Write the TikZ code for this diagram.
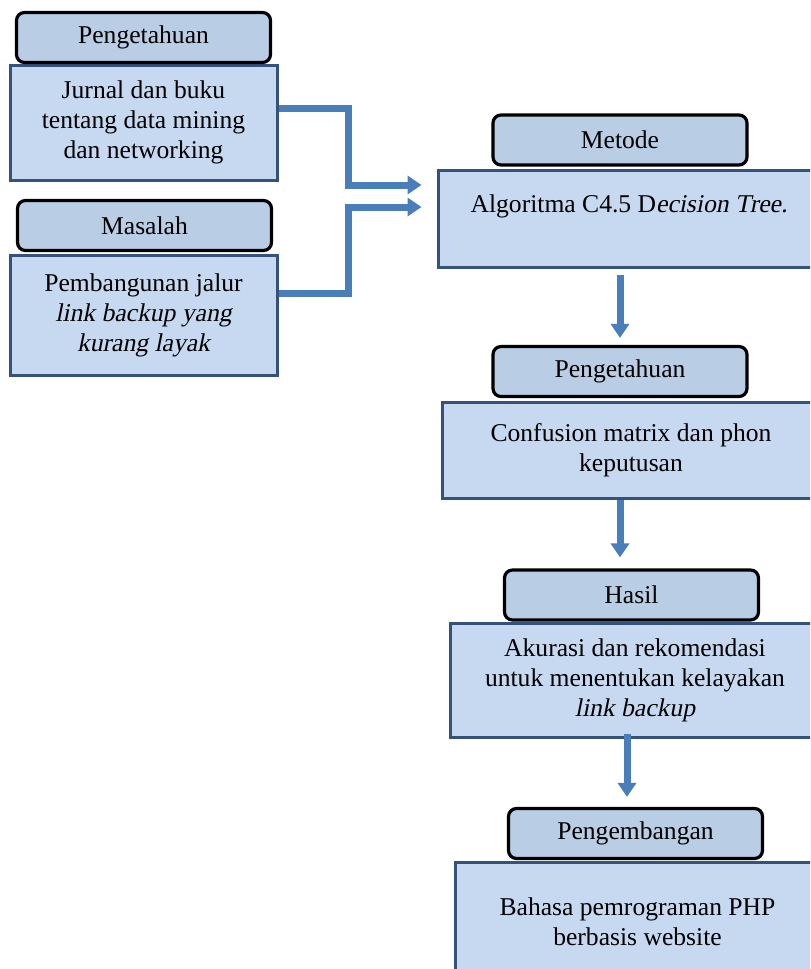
\documentclass[tikz,border=0pt]{standalone}
\usepackage{fontspec}
\setmainfont{Liberation Serif}[ItalicFont={Liberation Serif},ItalicFeatures={FakeSlant=0.2}]
\usepackage{xcolor}
\usepackage{tikz}
\usetikzlibrary{arrows.meta,positioning,calc}

\definecolor{bodyblue}{HTML}{C6D9F1}
\definecolor{headblue}{HTML}{B9CDE5}
\definecolor{edgeblue}{HTML}{34527A}
\definecolor{flowblue}{HTML}{4A7EBB}

\begin{document}
\begin{tikzpicture}[x=0.5pt,y=-0.5pt,
  head/.style={rectangle,rounded corners=4pt,draw=black,line width=1.6pt,fill=headblue,minimum width=127pt,minimum height=25pt,font=\fontsize{12.8}{15}\selectfont},
  body/.style={rectangle,draw=edgeblue,line width=1.5pt,fill=bodyblue,align=center,font=\fontsize{12.8}{15}\selectfont},
  flow/.style={draw=flowblue,line width=3.5pt,-{Triangle[length=7pt,width=9pt]}}]
\useasboundingbox (0,0) rectangle (810,969);
\clip (0,0) rectangle (810,969);
% left column
\node[body,minimum width=133.5pt,minimum height=57.5pt] (b1) at (143.5,122.5) {Jurnal dan buku\\tentang data mining\\dan networking};
\node[head] (h1) at (143.5,37.5) {Pengetahuan};
\node[body,minimum width=133.5pt,minimum height=60pt] (b2) at (143.5,315) {Pembangunan jalur\\\textit{link backup yang}\\\textit{kurang layak}};
\node[head] (h2) at (144.5,225.5) {Masalah};
% right column
\node[body,minimum width=191pt,minimum height=48.5pt] (b3) at (629,218.5) {Algoritma C4.5 D\textit{ecision Tree.}\\\mbox{}};
\node[head] (h3) at (620,140) {Metode};
\node[body,minimum width=189pt,minimum height=48pt] (b4) at (631,450) {Confusion matrix dan phon\\keputusan};
\node[head] (h4) at (620,371.5) {Pengetahuan};
\node[body,minimum width=185pt,minimum height=57pt] (b5) at (635,680) {Akurasi dan rekomendasi\\untuk menentukan kelayakan\\\textit{link backup}};
\node[head] (h5) at (631.5,595) {Hasil};
\node[body,minimum width=182.5pt,minimum height=60pt] (b6) at (637.5,922) {Bahasa pemrograman PHP\\berbasis website};
\node[head] (h6) at (635.5,833.5) {Pengembangan};
% arrows
\draw[flow] ([yshift=7pt]b1.east) -| ([xshift=-44pt,yshift=16.75pt]b3.west) -- ([xshift=-7.5pt,yshift=16.75pt]b3.west);
\draw[flow] ([yshift=11pt]b2.east) -| ([xshift=-44pt,yshift=5.75pt]b3.west) -- ([xshift=-7.5pt,yshift=5.75pt]b3.west);
\draw[flow] ([yshift=-3pt]b3.south -| h4.north) -- ([yshift=3.5pt]h4.north);
\draw[flow] (b4.south -| h4.south) -- ([yshift=5.5pt]h4.south |- h5.north);
\draw[flow] ([xshift=-2.25pt,yshift=2.5pt]h5.south |- b5.south) -- ([xshift=-2.25pt,yshift=5pt]h5.south |- h6.north);
\end{tikzpicture}
\end{document}
